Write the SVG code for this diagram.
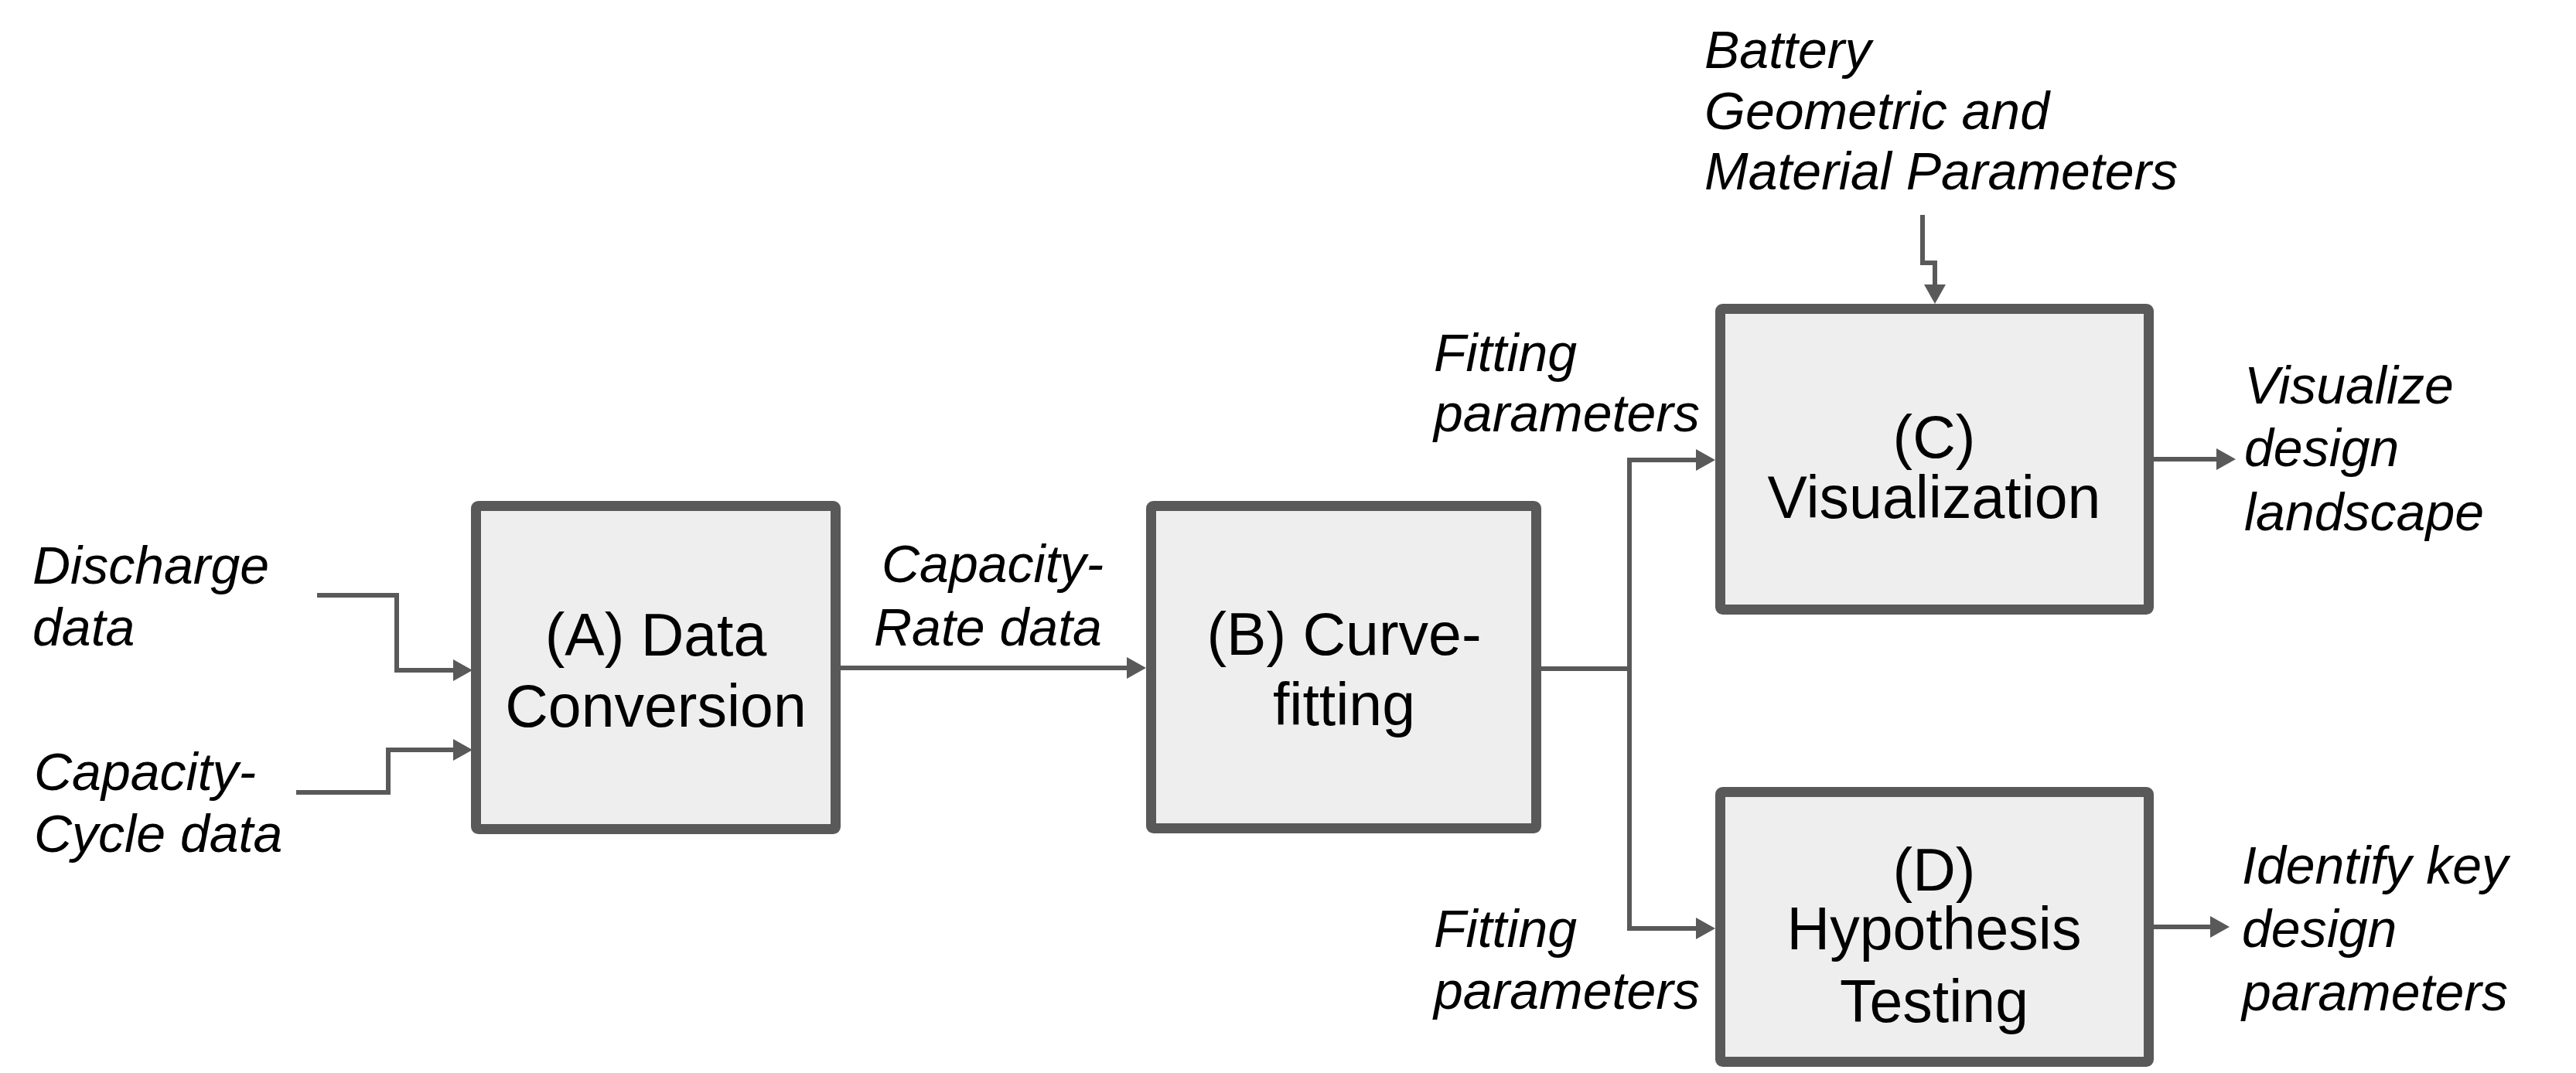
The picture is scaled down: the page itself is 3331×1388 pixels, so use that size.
<svg xmlns="http://www.w3.org/2000/svg" width="3331" height="1388" viewBox="0 0 3331 1388">
<style>
.box{fill:#EEEEEE;stroke:#595959;stroke-width:13}
.main{font-family:"Liberation Sans",Arial,sans-serif;font-size:77px;fill:#000;text-anchor:middle}
.lbl{font-family:"Liberation Sans",Arial,sans-serif;font-size:68px;font-style:italic;fill:#000}
.conn{fill:none;stroke:#595959;stroke-width:6;stroke-linejoin:miter}
</style>
<defs>
<marker id="ah" markerUnits="userSpaceOnUse" markerWidth="26" markerHeight="28" refX="1" refY="14" orient="auto">
<path d="M0,0 L25,14 L0,28 z" fill="#595959"/>
</marker>
</defs>
<rect width="3331" height="1388" fill="#FFFFFF"/>
<g id="connectors">
<path class="conn" d="M410,770 H513 V867 H587" marker-end="url(#ah)"/>
<path class="conn" d="M383,1025 H502 V970 H587" marker-end="url(#ah)"/>
<path class="conn" d="M1087,864 H1458" marker-end="url(#ah)"/>
<path class="conn" d="M1993,865 H2107"/>
<path class="conn" d="M2107,865 V595 H2194" marker-end="url(#ah)"/>
<path class="conn" d="M2107,865 V1201 H2194" marker-end="url(#ah)"/>
<path class="conn" d="M2486,278 V340 H2502 V369" marker-end="url(#ah)"/>
<path class="conn" d="M2785,594 H2867" marker-end="url(#ah)"/>
<path class="conn" d="M2785,1199 H2859" marker-end="url(#ah)"/>
</g>
<g id="nodeA">
<rect class="box" x="615.5" y="654.5" width="465" height="418" rx="3"/>
<text class="main" x="848" y="848">(A) Data</text>
<text class="main" x="848" y="940">Conversion</text>
</g>
<g id="nodeB">
<rect class="box" x="1488.5" y="654.5" width="498" height="417" rx="3"/>
<text class="main" x="1738" y="847">(B) Curve-</text>
<text class="main" x="1738" y="938">fitting</text>
</g>
<g id="nodeC">
<rect class="box" x="2224.5" y="399.5" width="554" height="389" rx="3"/>
<text class="main" x="2501" y="592">(C)</text>
<text class="main" x="2501" y="670">Visualization</text>
</g>
<g id="nodeD">
<rect class="box" x="2224.5" y="1024.5" width="554" height="349" rx="3"/>
<text class="main" x="2501" y="1152">(D)</text>
<text class="main" x="2501" y="1228">Hypothesis</text>
<text class="main" x="2501" y="1322">Testing</text>
</g>
<g id="labels">
<text class="lbl" x="42" y="755">Discharge</text>
<text class="lbl" x="42" y="835">data</text>
<text class="lbl" x="44" y="1022">Capacity-</text>
<text class="lbl" x="44" y="1102">Cycle data</text>
<text class="lbl" x="1140" y="753">Capacity-</text>
<text class="lbl" x="1130" y="835">Rate data</text>
<text class="lbl" x="2204" y="88">Battery</text>
<text class="lbl" x="2204" y="167">Geometric and</text>
<text class="lbl" x="2204" y="245">Material Parameters</text>
<text class="lbl" x="1854" y="480">Fitting</text>
<text class="lbl" x="1854" y="558">parameters</text>
<text class="lbl" x="1854" y="1225">Fitting</text>
<text class="lbl" x="1854" y="1305">parameters</text>
<text class="lbl" x="2902" y="522">Visualize</text>
<text class="lbl" x="2902" y="603">design</text>
<text class="lbl" x="2902" y="686">landscape</text>
<text class="lbl" x="2899" y="1143">Identify key</text>
<text class="lbl" x="2899" y="1225">design</text>
<text class="lbl" x="2899" y="1307">parameters</text>
</g>
</svg>
